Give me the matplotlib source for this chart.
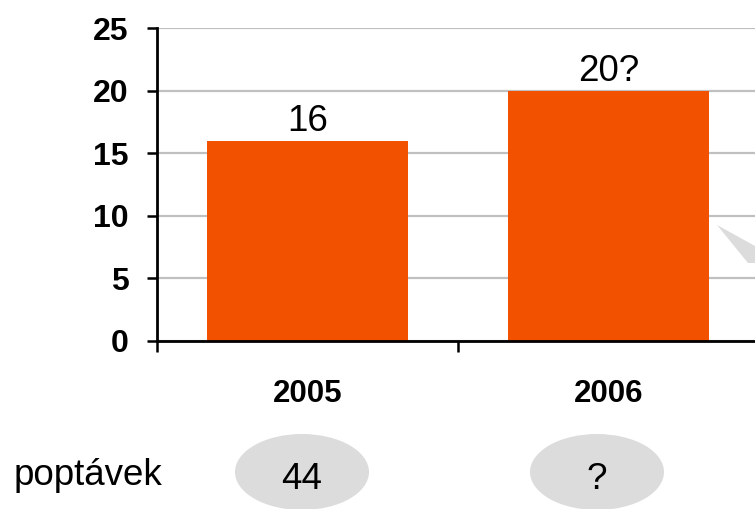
import numpy as np
import matplotlib.pyplot as plt
from matplotlib.patches import Ellipse, Polygon

# data
roky = ['2005', '2006']
hodnoty = [16, 20]
popisky = ['16', '20?']
poptavky_label = 'poptávek'
poptavky = ['44', '?']

plt.rcParams['font.family'] = ['Liberation Sans', 'DejaVu Sans']

W, H = 755, 509
fig = plt.figure(figsize=(W / 100, H / 100), dpi=100)

# hlavni graf (prava cast je oriznuta okrajem obrazku)
ax = fig.add_axes([157 / W, 1 - 341 / H, 602 / W, 313 / H])
x = np.arange(len(roky))
ax.bar(x, hodnoty, width=0.67, color='#F25100', zorder=2)
ax.set_xlim(-0.5, 1.5)
ax.set_ylim(0, 25)
ax.set_yticks(range(0, 26, 5))
ax.yaxis.grid(True, color='#C0C0C0', linewidth=1.6)
ax.set_axisbelow(True)
for s in ['top', 'right']:
    ax.spines[s].set_visible(False)
for s in ['left', 'bottom']:
    ax.spines[s].set_linewidth(2.0)

ax.tick_params(axis='y', direction='out', length=7.5, width=1.8, pad=13, labelsize=23)
ax.set_xticks(x, roky)
ax.set_xticks([-0.5, 0.5, 1.5], minor=True)
ax.tick_params(axis='x', which='major', length=0, pad=27, labelsize=22.5)
ax.tick_params(axis='x', which='minor', direction='out', length=8, width=1.8)
for lbl in ax.get_xticklabels() + ax.get_yticklabels():
    lbl.set_fontweight('bold')

for xi, v, t in zip(x, hodnoty, popisky):
    ax.annotate(t, (xi, v), xytext=(0, 7), textcoords='offset points',
                ha='center', va='baseline', fontsize=26.5)

# popisky pod grafem a vyrez bubliny vpravo
ov = fig.add_axes([0, 0, 1, 1])
ov.set_xlim(0, W)
ov.set_ylim(H, 0)
ov.axis('off')
ov.patch.set_alpha(0)

ov.text(14, 485, poptavky_label, ha='left', va='baseline', fontsize=26.5)
for cx, t in zip([302, 597], poptavky):
    ov.add_patch(Ellipse((cx, 472), 134, 76, color='#DCDCDC', lw=0))
    ov.text(cx, 489, t, ha='center', va='baseline', fontsize=26.5)

ov.add_patch(Polygon([(717, 225), (755, 246), (755, 263), (748, 263)],
                     closed=True, color='#DCDCDC', lw=0))

fig.savefig('out.png', dpi=100)
plt.close(fig)
